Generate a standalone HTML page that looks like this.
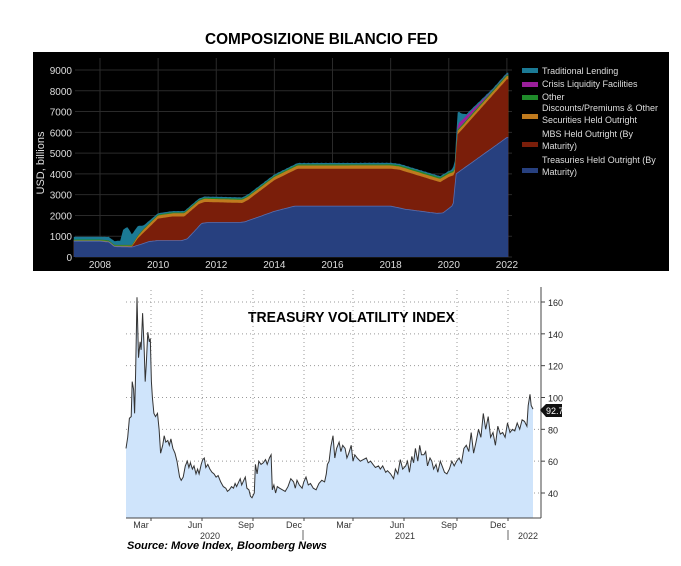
<!DOCTYPE html>
<html><head><meta charset="utf-8"><style>
html,body{margin:0;padding:0;background:#fff;width:681px;height:566px;overflow:hidden}
svg{display:block;font-family:"Liberation Sans",sans-serif}
</style></head><body>
<svg id="s" width="681" height="566" xmlns="http://www.w3.org/2000/svg">
<text x="205" y="44" textLength="233" lengthAdjust="spacingAndGlyphs" font-size="16" font-weight="bold" fill="#000">COMPOSIZIONE BILANCIO FED</text>
<rect x="33" y="52" width="636" height="219" fill="#000"/>
<g id="topgrid"></g>
<g id="areas"></g>
<text transform="translate(44,163) rotate(-90)" text-anchor="middle" font-size="11" fill="#ddd">USD, billions</text>
<g font-size="9" fill="#ddd" id="legend">
<rect x="522" y="68" width="16" height="5" fill="#1b7a95"/><text x="542" y="74">Traditional Lending</text>
<rect x="522" y="82" width="16" height="5" fill="#9b1f9b"/><text x="542" y="87">Crisis Liquidity Facilities</text>
<rect x="522" y="95" width="16" height="5" fill="#1f8a2a"/><text x="542" y="100">Other</text>
<rect x="522" y="114" width="16" height="5" fill="#c07a1e"/><text x="542" y="111">Discounts/Premiums &amp; Other</text><text x="542" y="123">Securities Held Outright</text>
<rect x="522" y="142" width="16" height="5" fill="#7a1e0a"/><text x="542" y="137">MBS Held Outright (By</text><text x="542" y="149">Maturity)</text>
<rect x="522" y="168" width="16" height="5" fill="#27407f"/><text x="542" y="163">Treasuries Held Outright (By</text><text x="542" y="175">Maturity)</text>
</g>
<text x="248" y="322" textLength="207" lengthAdjust="spacingAndGlyphs" font-size="15" font-weight="bold" fill="#000">TREASURY VOLATILITY INDEX</text>
<g id="bot"></g>
<text x="127" y="549" font-size="11" font-weight="bold" font-style="italic" fill="#000">Source: Move Index, Bloomberg News</text>
</svg>
<script>
var NS="http://www.w3.org/2000/svg";
function el(p,t,a,txt){var e=document.createElementNS(NS,t);for(var k in a)e.setAttribute(k,a[k]);if(txt!==undefined)e.textContent=txt;document.getElementById(p).appendChild(e);return e;}
function X(yr){return 100+(yr-2008)*29.064;}
function Y(v){return 257-v*0.02078;}
for(var v=0;v<=9000;v+=1000){var y=Y(v);el("topgrid","line",{x1:75,x2:512,y1:y,y2:y,stroke:"#2a2a2a","stroke-width":1});el("topgrid","text",{x:72,y:y+4,"text-anchor":"end","font-size":10,fill:"#ddd"},v);}
for(var yr=2008;yr<=2022;yr+=2){var x=X(yr);el("topgrid","line",{x1:x,x2:x,y1:58,y2:257,stroke:"#2a2a2a"});el("topgrid","text",{x:x,y:268,"text-anchor":"middle","font-size":10,fill:"#ddd"},yr);}
function interp(pts,t){if(t<=pts[0][0])return pts[0][1];for(var i=1;i<pts.length;i++){if(t<=pts[i][0]){var a=pts[i-1],b=pts[i];return a[1]+(b[1]-a[1])*(t-a[0])/(b[0]-a[0]);}}return pts[pts.length-1][1];}
var T=[[2007.1,760],[2008,760],[2008.3,720],[2008.5,500],[2009.1,480],[2009.3,560],[2009.7,750],[2010,790],[2010.8,790],[2011,870],[2011.5,1620],[2011.7,1660],[2012.8,1660],[2013,1700],[2014,2200],[2014.7,2450],[2018,2450],[2018.5,2300],[2019.6,2100],[2019.8,2120],[2020.15,2500],[2020.25,4000],[2022,5750]];
var M=[[2007.1,760],[2008,760],[2008.3,720],[2008.5,500],[2009.1,500],[2009.3,900],[2010,1850],[2010.5,1950],[2010.9,1950],[2011.4,2550],[2011.6,2650],[2012.9,2600],[2013.1,2750],[2014,3700],[2014.8,4250],[2018,4250],[2018.3,4200],[2019.7,3600],[2020,3850],[2020.2,3950],[2020.3,5900],[2020.5,6200],[2022,8550]];
var O=[[2007.1,40],[2009.1,40],[2009.5,150],[2022,160]];
var G=[[2007.1,40],[2022,70]];
var P=[[2007.1,0],[2020.25,0],[2020.35,250],[2020.6,200],[2021.2,80],[2021.5,20],[2022,20]];
var L=[[2007.1,130],[2008,130],[2008.3,160],[2008.7,200],[2008.8,750],[2008.95,850],[2009.1,500],[2009.3,450],[2009.5,150],[2010,60],[2020.1,60],[2020.2,300],[2020.3,700],[2020.4,400],[2020.6,80],[2022,60]];
var N=300,layers=[[],[],[],[],[],[]];
for(var i=0;i<=N;i++){var t=2007.1+(2022.05-2007.1)*i/N;var tr=interp(T,t),mb=interp(M,t),o=mb+interp(O,t),g=o+interp(G,t),p=g+interp(P,t),l=p+interp(L,t);var j=(i%3?0:15)*(t>2013?1:0.5);
layers[0].push([t,tr]);layers[1].push([t,mb]);layers[2].push([t,o]);layers[3].push([t,g]);layers[4].push([t,p]);layers[5].push([t,l+j]);}
var cols=["#27407f","#7a1e0a","#c07a1e","#1f8a2a","#9b1f9b","#1b7a95"];
for(var k=5;k>=0;k--){var d="M"+X(2007.1)+","+Y(0);layers[k].forEach(function(q){d+="L"+X(q[0]).toFixed(1)+","+Y(q[1]).toFixed(1);});d+="L"+X(2022.05)+","+Y(0)+"Z";el("areas","path",{d:d,fill:cols[k]});}
el("areas","polyline",{points:layers[0].map(function(q){return X(q[0]).toFixed(1)+","+Y(q[1]).toFixed(1)}).join(" "),fill:"none",stroke:"#5a6fb0","stroke-width":0.8});
function by(v){return 302+(160-v)*1.5917;}
var gx=[151,202,253,304,353,404,457,508];
gx.forEach(function(x){el("bot","line",{x1:x,x2:x,y1:290,y2:518,stroke:"#999","stroke-dasharray":"1,3"});});
for(var v=40;v<=160;v+=20){var y=by(v);el("bot","line",{x1:126,x2:541,y1:y,y2:y,stroke:"#999","stroke-dasharray":"1,3"});el("bot","line",{x1:541,x2:545,y1:y,y2:y,stroke:"#444"});el("bot","text",{x:548,y:y+4,"font-size":9,fill:"#222"},v);}
var D=[0,68,5,75,10,87,15,88,18,110,22,105,25,90,28,115,32,163,35,125,38,135,40,130,43,153,46,130,48,110,50,120,53,141,56,135,58,137,60,110,62,100,65,90,68,88,72,90,75,80,78,65,82,70,85,76,88,72,92,73,95,70,98,74,102,68,106,65,110,60,115,50,118,48,122,50,126,57,130,60,133,56,136,59,140,55,143,57,147,52,150,55,153,52,157,58,160,61,163,62,166,56,170,58,174,55,178,53,182,52,186,50,190,51,195,47,200,44,205,43,208,41,212,42,216,44,220,43,223,46,226,44,230,47,233,49,236,45,240,48,243,50,246,43,250,42,253,38,256,37,260,40,262,58,265,52,268,60,272,58,276,59,280,61,283,58,287,62,290,64,292,42,295,45,298,40,301,44,305,43,310,42,315,41,320,44,325,49,330,47,333,43,336,48,340,45,345,43,348,47,352,50,356,45,360,46,365,43,370,42,375,46,380,48,385,47,388,52,390,58,393,60,396,69,400,76,403,62,406,68,410,72,413,66,416,70,420,68,423,62,426,65,430,70,433,60,436,64,440,62,445,60,450,61,455,62,458,59,462,60,466,58,470,56,475,57,478,55,482,57,487,53,490,54,495,52,500,49,503,55,507,52,511,61,515,55,520,57,523,60,526,53,530,63,533,59,536,68,540,60,543,70,546,64,550,64,553,66,556,57,560,62,563,60,566,55,570,58,573,53,577,60,580,57,584,53,588,52,592,55,596,60,600,57,604,60,608,62,612,59,616,68,620,70,624,66,628,78,632,65,636,72,640,80,644,75,648,90,652,80,656,88,660,75,664,78,668,70,672,82,676,77,680,78,684,75,688,84,692,78,696,80,700,79,704,84,708,80,712,86,716,85,720,82,722,95,725,102,727,95,730,92.7];
var TM=[[0,126],[32,137],[256,252],[400,333],[730,533]];
var pts=[];for(var i=0;i<D.length;i+=2){pts.push([interp(TM,D[i]),by(D[i+1])]);}
var ps=pts.map(function(q){return q[0].toFixed(1)+","+q[1].toFixed(1)}).join(" ");
el("bot","polygon",{points:"126,518 "+ps+" 533,518",fill:"#cfe4fb"});
el("bot","polyline",{points:ps,fill:"none",stroke:"#333","stroke-width":1});
el("bot","line",{x1:541,x2:541,y1:287,y2:518,stroke:"#444"});
el("bot","line",{x1:126,x2:541,y1:518,y2:518,stroke:"#444"});
gx.forEach(function(x){el("bot","line",{x1:x,x2:x,y1:518,y2:521,stroke:"#444"});});
[["Mar",141],["Jun",195],["Sep",246],["Dec",294],["Mar",344],["Jun",397],["Sep",449],["Dec",498]].forEach(function(m){el("bot","text",{x:m[1],y:528,"text-anchor":"middle","font-size":9,fill:"#333"},m[0]);});
[["2020",210],["2021",405],["2022",528]].forEach(function(m){el("bot","text",{x:m[1],y:539,"text-anchor":"middle","font-size":9,fill:"#333"},m[0]);});
el("bot","line",{x1:303,x2:303,y1:530,y2:540,stroke:"#666"});
el("bot","line",{x1:508,x2:508,y1:530,y2:540,stroke:"#666"});
el("bot","path",{d:"M540,410 L546,404 L562,404 L562,417 L546,417 Z",fill:"#111"});
el("bot","text",{x:546,y:414,"font-size":9,fill:"#fff"},"92.74");
</script>
</body></html>
